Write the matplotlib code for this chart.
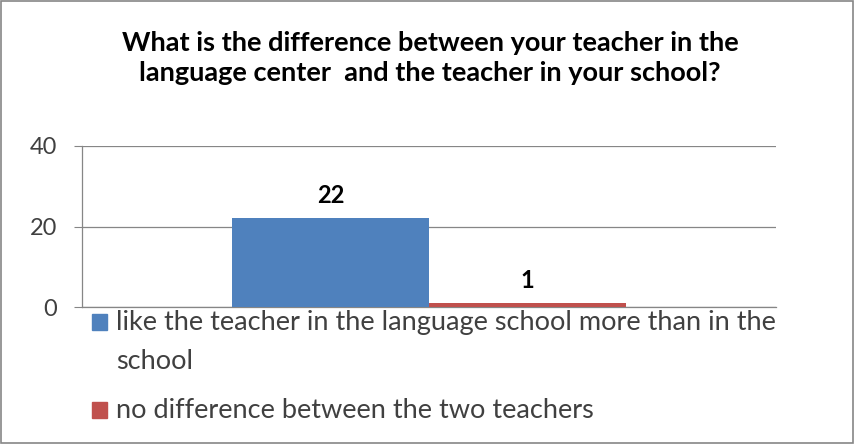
import matplotlib.pyplot as plt
from matplotlib.patches import Rectangle
import numpy as np

plt.rcParams['font.family'] = ['Lato', 'DejaVu Sans']

# data
title = "What is the difference between your teacher in the\nlanguage center  and the teacher in your school?"
series_labels = [
    "like the teacher in the language school more than in the\nschool",
    "no difference between the two teachers",
]
values = [22, 1]
colors = ["#4F81BD", "#C0504D"]
yticks = [0, 20, 40]

W, H = 859, 446
fig = plt.figure(figsize=(W/100, H/100), dpi=100)
ax = fig.add_axes([82/W, 1-307/H, 694/W, 161/H])

# bars of one category, side by side
w = 197/694
center = 0.5
for i, v in enumerate(values):
    x = center + (i - (len(values)-1)/2) * w
    ax.bar(x, v, w, color=colors[i], zorder=3)
    ax.annotate(str(v), (x, v), xytext=(0, 11), textcoords='offset points',
                ha='center', va='baseline', fontsize=17, fontweight='bold',
                color='black')

ax.set_xlim(0, 1)
ax.set_ylim(0, 40)
ax.set_yticks(yticks)
ax.set_xticks([])
ax.tick_params(axis='y', length=6, color='#868686', labelsize=17,
               labelcolor='#404040', pad=12)
ax.grid(axis='y', color='#868686', linewidth=0.9, zorder=0)
for s in ['top', 'right']:
    ax.spines[s].set_visible(False)
for s in ['left', 'bottom']:
    ax.spines[s].set_color('#868686')
    ax.spines[s].set_linewidth(0.9)

fig.text(430/W, 1-31/H, title, ha='center', va='top', fontsize=19.5,
         fontweight='bold', linespacing=1.3)

# legend below the plot
leg_y = [314, 402]
for i, lab in enumerate(series_labels):
    fig.patches.append(Rectangle((92/W, 1-(leg_y[i]+16)/H), 15/W, 16/H,
                                 transform=fig.transFigure, color=colors[i]))
    fig.text(116/W, 1-(leg_y[i]-4)/H, lab, ha='left', va='top',
             fontsize=19.5, color='#404040', linespacing=1.7)

fig.patches.append(Rectangle((1/W, 3/H), 852/W, 442/H, transform=fig.transFigure,
                             fill=False, edgecolor='#868686', linewidth=1.2))

fig.savefig("out.png", dpi=100)
